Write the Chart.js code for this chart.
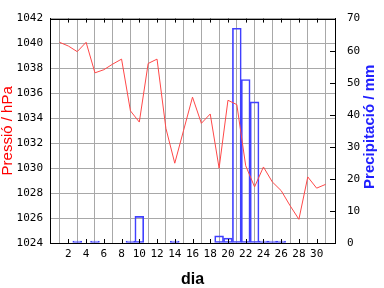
<!DOCTYPE html>
<html lang="ca">
<head>
<meta charset="UTF-8">
<title>Pressió i precipitació</title>
<script src="https://cdn.jsdelivr.net/npm/chart.js"></script>
<style>
  html, body { margin: 0; padding: 0; background: #fff; }
  #chart { display: block; }
</style>
</head>
<body>
<canvas id="chart" width="384" height="288"></canvas>
<script>
// dades llegides del gràfic
const dies = [1, 2, 3, 4, 5, 6, 7, 8, 9, 10, 11, 12, 13, 14, 15, 16,
              17, 18, 19, 20, 21, 22, 23, 24, 25, 26, 27, 28, 29, 30, 31];
const pressio = [1040.1, 1039.8, 1039.35, 1040.1, 1037.65, 1037.9, 1038.35, 1038.75,
                 1034.6, 1033.7, 1038.4, 1038.75, 1033.2, 1030.4, 1033.05, 1035.7,
                 1033.6, 1034.35, 1030.0, 1035.45, 1035.1, 1030.2, 1028.5, 1030.1,
                 1028.9, 1028.2, 1027.0, 1025.9, 1029.3, 1028.4, 1028.7];
const diesPluja = [3, 5, 9, 10, 14, 19, 20, 21, 22, 23, 24, 25, 26];
const pluja = [0.3, 0.3, 0.3, 8.3, 0.3, 2.2, 1.5, 67, 51, 44, 0.3, 0.3, 0.3];
const ticksDia = [2, 4, 6, 8, 10, 12, 14, 16, 18, 20, 22, 24, 26, 28, 30];

const red = '#ff4848';
const blue = '#4040ff';
const tickFont = { family: '"DejaVu Sans Mono", monospace', size: 11 };

// marc negre i marques cap endins
const frame = {
  id: 'frame',
  afterDraw(chart) {
    const { ctx, chartArea: a, scales } = chart;
    ctx.save();
    ctx.strokeStyle = '#000';
    ctx.lineWidth = 1;
    ctx.beginPath();
    scales.x.ticks.forEach(t => {
      const px = Math.round(scales.x.getPixelForValue(t.value)) + 0.5;
      ctx.moveTo(px, a.top); ctx.lineTo(px, a.top + 4);
      ctx.moveTo(px, a.bottom); ctx.lineTo(px, a.bottom - 4);
    });
    scales.y1.ticks.forEach(t => {
      const py = Math.round(scales.y1.getPixelForValue(t.value)) + 0.5;
      ctx.moveTo(a.right, py); ctx.lineTo(a.right - 5, py);
    });
    ctx.stroke();
    ctx.strokeRect(Math.round(a.left) + 0.5, Math.round(a.top) + 0.5,
                   Math.round(a.right - a.left), Math.round(a.bottom - a.top));
    // títol de l'eix dret, llegint de baix a dalt
    ctx.fillStyle = '#2020ff';
    ctx.font = 'bold 15px "Liberation Sans", Arial, sans-serif';
    ctx.textAlign = 'center';
    ctx.textBaseline = 'middle';
    ctx.translate(370, (a.top + a.bottom) / 2 - 4);
    ctx.rotate(-Math.PI / 2);
    ctx.fillText('Precipitació / mm', 0, 0);
    ctx.restore();
  }
};

new Chart(document.getElementById('chart'), {
  data: {
    datasets: [{
      type: 'line',
      label: 'Pressió',
      data: dies.map((d, i) => ({ x: d, y: pressio[i] })),
      borderColor: red,
      borderWidth: 1,
      pointRadius: 0,
      tension: 0,
      yAxisID: 'y',
      order: 1
    }, {
      type: 'bar',
      label: 'Precipitació',
      data: diesPluja.map((d, i) => ({ x: d, y: pluja[i] })),
      backgroundColor: 'rgba(0,0,0,0)',
      borderColor: blue,
      borderWidth: 1,
      borderSkipped: false,
      minBarLength: 2,
      barPercentage: 1,
      categoryPercentage: 1,
      yAxisID: 'y1',
      order: 2
    }]
  },
  options: {
    responsive: false,
    devicePixelRatio: 1,
    animation: false,
    layout: { padding: { top: 14, left: 0, right: 0, bottom: 0 } },
    plugins: { legend: { display: false }, tooltip: { enabled: false } },
    scales: {
      x: {
        type: 'linear',
        min: 1,
        max: 31,
        afterBuildTicks: s => { s.ticks = ticksDia.map(v => ({ value: v })); },
        afterFit: s => { s.height = 45; },
        grid: { color: '#a8a8a8', drawTicks: false },
        border: { color: '#000' },
        ticks: { color: '#000', font: tickFont, padding: 5, maxRotation: 0, autoSkip: false,
                 callback: v => String(v) },
        title: {
          display: true, text: 'dia', color: '#000',
          font: { family: '"Liberation Sans", Arial, sans-serif', size: 16, weight: 'bold', lineHeight: 1 },
          padding: { top: 8, bottom: 0 }
        }
      },
      y: {
        position: 'left',
        min: 1024,
        max: 1042,
        afterFit: s => { s.width = 50; },
        grid: { color: '#a8a8a8', drawTicks: false },
        border: { color: '#000' },
        ticks: { color: '#000', font: tickFont, stepSize: 2, padding: 7,
                 callback: v => String(v) },
        title: {
          display: true, text: 'Pressió / hPa', color: '#ff0000',
          font: { family: '"Liberation Sans", Arial, sans-serif', size: 15, lineHeight: 1 },
          padding: { top: 0, bottom: 0 }
        }
      },
      y1: {
        position: 'right',
        min: 0,
        max: 70,
        afterFit: s => { s.width = 49; },
        grid: { drawOnChartArea: false, drawTicks: false },
        border: { color: '#000' },
        ticks: { color: '#000', font: tickFont, stepSize: 10, padding: 12,
                 callback: v => String(v) }
      }
    }
  },
  plugins: [frame]
});
</script>
</body>
</html>
